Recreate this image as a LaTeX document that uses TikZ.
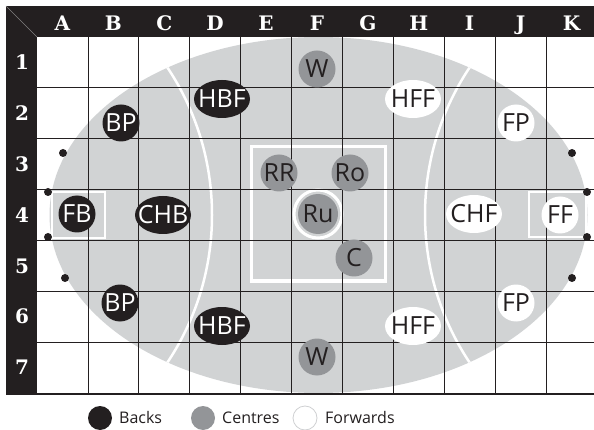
\documentclass[tikz,border=0pt]{standalone}
\usepackage{fontspec}
\setmainfont{Open Sans}
\newfontfamily\hdrfont{DejaVu Serif Bold}
\usetikzlibrary{shapes.geometric}
\definecolor{ink}{HTML}{231F20}
\definecolor{fieldgray}{HTML}{D1D3D4}
\definecolor{midgray}{HTML}{939598}
\definecolor{rimgray}{HTML}{CFD0D2}
\begin{document}
\begin{tikzpicture}[x=1pt,y=-1pt,
  lbl/.style={font=\fontsize{25}{25}\selectfont, inner sep=0pt},
  backc/.style={circle, fill=ink, minimum size=37pt, inner sep=0pt, label={[lbl,text=white]center:#1}},
  backe/.style={ellipse, fill=ink, minimum width=56pt, minimum height=38pt, inner sep=0pt, label={[lbl,text=white]center:#1}},
  centc/.style={circle, fill=midgray, minimum size=37pt, inner sep=0pt, label={[lbl,text=ink]center:#1}},
  fwdc/.style={circle, fill=white, minimum size=37pt, inner sep=0pt, label={[lbl,text=ink]center:#1}},
  fwde/.style={ellipse, fill=white, minimum width=56pt, minimum height=38pt, inner sep=0pt, label={[lbl,text=ink]center:#1}},
  hdr/.style={font=\hdrfont\fontsize{20}{20}\selectfont, text=white, inner sep=0pt, anchor=base},
  post/.style={circle, fill=ink, minimum size=8pt, inner sep=0pt},
  gridline/.style={draw=ink, line width=0.8pt},
  fieldline/.style={draw=white, line width=2.5pt},
  legtxt/.style={font=\fontsize{16}{16}\selectfont, text=ink, anchor=base west, inner sep=0pt},
  legdot/.style={circle, minimum size=24pt, inner sep=0pt}
]
\useasboundingbox (0,0) rectangle (594,430);
% field
\fill[fieldgray] (318.5,215) ellipse [x radius=269pt, y radius=178pt];
\begin{scope}
  \clip (318.5,215) ellipse [x radius=269pt, y radius=178pt];
  \draw[fieldline] (-54,215) circle [radius=266pt];
  \draw[fieldline] (691,215) circle [radius=266pt];
\end{scope}
\draw[white, line width=3pt] (251,147) rectangle (385,281);
\draw[white, line width=2pt] (52,192) rectangle (105,238);
\draw[white, line width=2pt] (529,192) rectangle (586,237);
\draw[white, line width=3pt] (318,214) circle [radius=24pt];
% grid
\foreach \i in {1,...,10} \draw[gridline] ({37+50.9*\i},37) -- ({37+50.9*\i},393);
\foreach \j in {1,...,6} \draw[gridline] (37,{37+50.9*\j}) -- (594,{37+50.9*\j});
% posts
\node[post] (lpa) at (63,153) {};
\node[post] (lpb) at (48,192) {};
\node[post] (lpc) at (48,237) {};
\node[post] (lpd) at (65,278) {};
\node[post] (rpa) at (572,153) {};
\node[post] (rpb) at (587,192) {};
\node[post] (rpc) at (587,237) {};
\node[post] (rpd) at (572,278) {};
% backs
\node[backc=FB] (fb) at (77,214) {};
\node[backe=CHB] (chb) at (163,215) {};
\node[backc=BP] (bpa) at (121,123) {};
\node[backc=BP] (bpb) at (120,303) {};
\node[backe=HBF] (hbfa) at (222,99) {};
\node[backe=HBF] (hbfb) at (222,326) {};
% centres
\node[centc=W] (wa) at (317,69) {};
\node[centc=W] (wb) at (317,357) {};
\node[centc=RR] (rr) at (279,173) {};
\node[centc=Ro] (ro) at (350,173) {};
\node[centc=Ru, minimum size=40pt] (ru) at (318,214) {};
\node[centc=C] (cc) at (354,258) {};
% forwards
\node[fwde=HFF] (hffa) at (413,99) {};
\node[fwde=HFF] (hffb) at (413,326) {};
\node[fwdc=FP] (fpa) at (516,123) {};
\node[fwdc=FP] (fpb) at (516,303) {};
\node[fwde=CHF] (chf) at (474,214) {};
\node[fwdc=FF] (ff) at (560,215) {};
% frame
\fill[ink] (6,6) rectangle (594,37);
\fill[ink] (6,6) rectangle (37,394);
\fill[ink] (6,392.5) rectangle (594,394.5);
\draw[gray, line width=0.4pt] (6,6) -- (37,37);
\foreach \l [count=\i from 0] in {A,B,C,D,E,F,G,H,I,J,K}
  \node[hdr] (col\l) at ({37+50.9*(\i+0.5)},30.5) {\l};
\foreach \n in {1,...,7}
  \node[hdr] (row\n) at (22,{37+50.9*(\n-0.5)+7}) {\n};
% legend
\node[legdot, fill=ink] (lgb) at (100,418) {};
\node[legtxt] (lgbt) at (119,423) {Backs};
\node[legdot, fill=midgray] (lgc) at (203,418) {};
\node[legtxt] (lgct) at (222,423) {Centres};
\node[legdot, fill=white, draw=rimgray, line width=0.8pt] (lgf) at (305,418) {};
\node[legtxt] (lgft) at (325,423) {Forwards};
\end{tikzpicture}
\end{document}
